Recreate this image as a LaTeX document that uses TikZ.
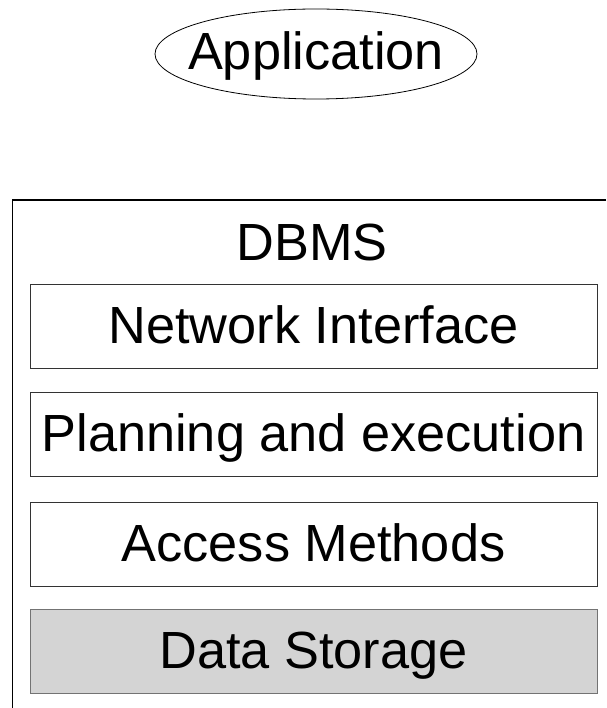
\documentclass[tikz,border=0pt]{standalone}
\usepackage{fontspec}
\setmainfont{Liberation Sans}
\begin{document}
\begin{tikzpicture}[x=1pt,y=-1pt,
  bigtext/.style={font=\fontsize{52.3}{52.3}\selectfont},
  layerbox/.style={bigtext,draw=black!80,line width=1pt,minimum width=567pt,minimum height=84pt,inner sep=0pt,text height=40pt,text depth=6pt},
  storebox/.style={layerbox,draw=black!55,fill=black!17},
  lbl/.style={bigtext,inner sep=0pt,anchor=base}]
\useasboundingbox (0,0) rectangle (606,708);
\node[lbl] (app) at (316,70) {Application};
\draw[line width=0.8pt] (316,54) ellipse [x radius=161pt, y radius=45pt];
\draw[line width=1.5pt] (606,200) -- (12.5,200) -- (12.5,708);
\node[lbl] (dbms) at (312,260) {DBMS};
\node[layerbox] (net) at (313.5,326) {Network Interface};
\node[layerbox] (plan) at (313.5,434) {Planning and execution};
\node[layerbox] (acc) at (313.5,544.5) {Access Methods};
\node[storebox] (data) at (313.5,651) {Data Storage};
\end{tikzpicture}
\end{document}
